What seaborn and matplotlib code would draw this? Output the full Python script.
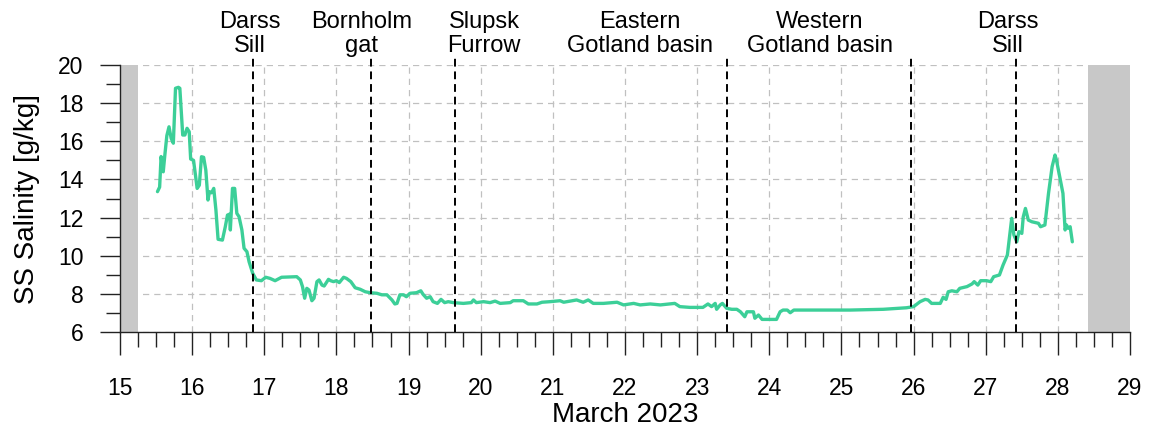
import numpy as np
import pandas as pd
import seaborn as sns
import matplotlib
matplotlib.use("Agg")
from matplotlib import pyplot as plt
from matplotlib.ticker import MultipleLocator

# day of March 2023 and sea-surface salinity
day = [15.52, 15.55, 15.57, 15.60, 15.62, 15.65, 15.68, 15.71, 15.74, 15.77,
       15.81, 15.83, 15.87, 15.90, 15.93, 15.96, 15.98, 16.02, 16.05, 16.07,
       16.10, 16.13, 16.16, 16.19, 16.22, 16.24, 16.27, 16.30, 16.33, 16.36,
       16.42, 16.46, 16.49, 16.52, 16.53, 16.56, 16.59, 16.62, 16.65, 16.69,
       16.72, 16.76, 16.79, 16.84, 16.89, 16.96, 17.02, 17.08, 17.15, 17.24,
       17.45, 17.50, 17.53, 17.56, 17.59, 17.62, 17.66, 17.69, 17.73, 17.76,
       17.80, 17.83, 17.89, 17.92, 17.96, 18.00, 18.04, 18.10, 18.14, 18.20,
       18.26, 18.33, 18.40, 18.47, 18.56, 18.63, 18.70, 18.77, 18.81, 18.84,
       18.88, 18.93, 18.97, 19.02, 19.11, 19.17, 19.20, 19.25, 19.30, 19.34,
       19.40, 19.45, 19.50, 19.55, 19.62, 19.76, 19.87, 19.90, 19.94, 20.04,
       20.13, 20.20, 20.27, 20.41, 20.45, 20.59, 20.66, 20.78, 20.85, 20.96,
       21.10, 21.15, 21.24, 21.33, 21.42, 21.49, 21.56, 21.70, 21.89, 21.98,
       22.12, 22.21, 22.35, 22.49, 22.62, 22.69, 22.76, 22.90, 23.08, 23.15,
       23.20, 23.25, 23.27, 23.32, 23.35, 23.41, 23.48, 23.55, 23.60, 23.66,
       23.69, 23.78, 23.80, 23.85, 23.90, 24.10, 24.15, 24.19, 24.25, 24.29,
       24.34, 24.67, 25.12, 25.58, 25.90, 26.00, 26.09, 26.16, 26.20, 26.25,
       26.37, 26.41, 26.45, 26.48, 26.53, 26.60, 26.64, 26.74, 26.81, 26.84,
       26.89, 26.93, 27.01, 27.07, 27.11, 27.19, 27.24, 27.30, 27.33, 27.36,
       27.39, 27.43, 27.46, 27.50, 27.52, 27.55, 27.59, 27.64, 27.73, 27.76,
       27.82, 27.87, 27.92, 27.96, 27.98, 28.02, 28.07, 28.10, 28.12, 28.14,
       28.17, 28.20]
salinity = [13.36, 13.6, 15.2, 14.4, 15.2, 16.3, 16.76, 16.15, 15.9, 18.78,
            18.83, 18.78, 16.33, 16.33, 16.68, 16.5, 15.07, 15.0, 14.14, 13.53,
            13.7, 15.19, 15.16, 14.49, 12.92, 13.36, 13.3, 13.53, 12.4, 10.86,
            10.82, 11.52, 12.13, 12.18, 11.35, 13.53, 13.53, 12.22, 12.05, 11.35,
            10.39, 10.21, 9.68, 9.08, 8.73, 8.69, 8.87, 8.81, 8.69, 8.87,
            8.9, 8.73, 8.38, 7.77, 8.29, 8.2, 7.64, 7.77, 8.64, 8.73,
            8.46, 8.41, 8.76, 8.69, 8.64, 8.69, 8.59, 8.87, 8.81, 8.64,
            8.32, 8.24, 8.11, 8.06, 8.03, 7.95, 7.95, 7.68, 7.47, 7.5,
            7.95, 7.95, 7.85, 8.03, 8.06, 8.16, 7.98, 7.77, 7.85, 7.59,
            7.5, 7.71, 7.54, 7.59, 7.54, 7.5, 7.54, 7.68, 7.54, 7.59,
            7.54, 7.62, 7.5, 7.54, 7.64, 7.64, 7.47, 7.47, 7.56, 7.59,
            7.64, 7.56, 7.62, 7.68, 7.56, 7.68, 7.5, 7.5, 7.56, 7.42,
            7.5, 7.42, 7.47, 7.42, 7.47, 7.5, 7.33, 7.29, 7.29, 7.47,
            7.33, 7.5, 7.19, 7.42, 7.5, 7.24, 7.19, 7.19, 7.06, 6.8,
            7.06, 7.06, 6.72, 6.89, 6.66, 6.66, 7.06, 7.15, 7.15, 7.01,
            7.15, 7.15, 7.15, 7.19, 7.27, 7.33, 7.59, 7.71, 7.68, 7.5,
            7.5, 7.82, 7.71, 8.11, 8.16, 8.11, 8.29, 8.38, 8.52, 8.64,
            8.46, 8.69, 8.69, 8.64, 8.9, 8.99, 9.51, 10.04, 11.0, 11.96,
            11.09, 10.73, 11.26, 11.17, 12.04, 12.48, 11.87, 11.78, 11.7, 11.52,
            11.61, 13.27, 14.67, 15.28, 15.02, 14.23, 13.27, 11.35, 11.61, 11.44,
            11.52, 10.73]

# region boundaries (dashed lines) and label positions
boundaries = [16.85, 18.48, 19.64, 23.42, 25.97, 27.42]
region_names = ["Darss\nSill", "Bornholm\ngat", "Slupsk\nFurrow",
                "Eastern\nGotland basin", "Western\nGotland basin", "Darss\nSill"]
label_days = [16.80, 18.35, 20.05, 22.21, 24.70, 27.30]

# shaded periods without data
gaps = [(15.0, 15.25), (28.42, 29.0)]

df = pd.DataFrame({"day": day, "salinity": salinity})

sns.set_style("white")
plt.rcParams["font.family"] = ["Liberation Sans", "DejaVu Sans"]
plt.rcParams["text.color"] = "black"
plt.rcParams["axes.labelcolor"] = "black"

fig = plt.figure(figsize=(11.49, 4.32), dpi=100)
ax = fig.add_axes([0.1044, 0.2315, 0.8791, 0.618])

for a, b in gaps:
    ax.axvspan(a, b, color="#c8c8c8", lw=0, zorder=1)

sns.lineplot(data=df, x="day", y="salinity", sort=False, estimator=None,
             color="#3ccf98", lw=2.4, ax=ax, zorder=3)

for d in boundaries:
    ax.axvline(d, ymin=0, ymax=1.025, color="black", ls=(0, (4, 2.5)),
               lw=1.4, clip_on=False, zorder=4)

for d, name in zip(label_days, region_names):
    ax.text(d, 1.03, name, transform=ax.get_xaxis_transform(),
            ha="center", va="bottom", fontsize=17, linespacing=1.1,
            color="black")

ax.set_xlim(15, 29)
ax.set_ylim(6, 20)
ax.xaxis.set_major_locator(MultipleLocator(1))
ax.xaxis.set_minor_locator(MultipleLocator(0.25))
ax.yaxis.set_major_locator(MultipleLocator(2))
ax.yaxis.set_minor_locator(MultipleLocator(1))

ax.grid(True, which="major", color="#c0c0c0", ls=(0, (5, 4)), lw=0.9, zorder=0)
ax.set_axisbelow(True)

for s in ["top", "right"]:
    ax.spines[s].set_visible(False)
for s in ["left", "bottom"]:
    ax.spines[s].set_color("#222222")
    ax.spines[s].set_linewidth(1.0)

ax.tick_params(which="both", bottom=True, left=True, top=False, right=False)
ax.tick_params(axis="x", which="major", direction="out", length=16.5, width=1,
               pad=16, labelsize=16.5, colors="#222222", labelcolor="black")
ax.tick_params(axis="x", which="minor", direction="out", length=11, width=1,
               colors="#222222")
ax.tick_params(axis="y", which="major", direction="out", length=14.4, width=1,
               pad=12, labelsize=16.5, colors="#222222", labelcolor="black")
ax.tick_params(axis="y", which="minor", direction="out", length=10, width=1,
               colors="#222222")

ax.set_xlabel("March 2023", fontsize=20, labelpad=1)
ax.set_ylabel("SS Salinity [g/kg]", fontsize=20, labelpad=13)

fig.savefig("out.png", dpi=100)
